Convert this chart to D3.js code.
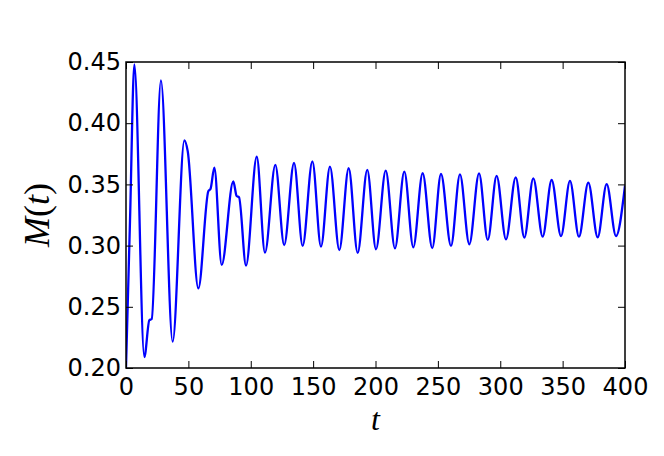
<!DOCTYPE html>
<html>
<head>
<meta charset="utf-8">
<script src="https://cdn.jsdelivr.net/npm/d3@7"></script>
<style>
  body { margin: 0; background: #fff; }
  svg { display: block; }
</style>
</head>
<body>
<script>
// time points (peaks, troughs and shoulders)
let tValues = [0, 3.2, 6.7, 14.7, 18.7, 20.6, 28, 37.4, 46.8, 49.5, 58, 66, 67.8, 70.8, 76.7, 86, 88.7, 90.6, 96.2,
  104.8, 111.4, 119.7, 126.8, 134.7, 141.6, 149.4, 156.3, 163.5, 171, 178.5, 185.7, 193.4, 200.4,
  208.2, 215.6, 223.1, 230.3, 237.8, 245.5, 252.5, 260.5, 267.7, 275.2, 283, 290, 297.1, 304.6,
  312.4, 319.3, 326.5, 334, 341.2, 348.7, 355.9, 363.1, 370.6, 378.1, 385.3, 392.8, 400];

let mValues = [0.200, 0.320, 0.448, 0.209, 0.239, 0.240, 0.435, 0.2215, 0.386, 0.377, 0.265, 0.3445, 0.3465, 0.3636, 0.2842, 0.3525, 0.3405, 0.3395, 0.2836,
  0.3726, 0.2942, 0.3660, 0.3005, 0.3675, 0.2997, 0.3688, 0.2991, 0.3645, 0.2964, 0.3632, 0.2940, 0.3618, 0.2970,
  0.3612, 0.2978, 0.3604, 0.2986, 0.3591, 0.2980, 0.3585, 0.2997, 0.3582, 0.3011, 0.3590, 0.3046, 0.3570, 0.3051,
  0.3558, 0.3065, 0.3550, 0.3073, 0.3536, 0.3078, 0.3528, 0.3073, 0.3514, 0.3068, 0.3503, 0.3078, 0.3490];

let xTicks = [0, 50, 100, 150, 200, 250, 300, 350, 400];
let yTicks = [0.20, 0.25, 0.30, 0.35, 0.40, 0.45];

let width = 664, height = 456;
let margin = {left: 126, right: 39, top: 62, bottom: 88};

let svg = d3.select("body").append("svg")
  .attr("width", width)
  .attr("height", height);

let x = d3.scaleLinear().domain([0, 400]).range([margin.left, width - margin.right]);
let y = d3.scaleLinear().domain([0.20, 0.45]).range([height - margin.bottom, margin.top]);

let points = tValues.map(function(t, i) { return [t, mValues[i]]; });

let line = d3.line()
  .x(function(d) { return x(d[0]); })
  .y(function(d) { return y(d[1]); })
  .curve(d3.curveMonotoneX);

svg.append("defs").append("clipPath").attr("id", "clip")
  .append("rect")
  .attr("x", margin.left).attr("y", margin.top)
  .attr("width", width - margin.left - margin.right)
  .attr("height", height - margin.top - margin.bottom);

svg.append("path")
  .datum(points)
  .attr("clip-path", "url(#clip)")
  .attr("d", line)
  .attr("fill", "none")
  .attr("stroke", "#0000ff")
  .attr("stroke-width", 2.3)
  .attr("stroke-linejoin", "round");

// ticks point inwards on all four sides
let tickLen = 7;
let axes = [
  {axis: d3.axisBottom(x).tickValues(xTicks).tickSizeInner(-tickLen).tickSizeOuter(0).tickPadding(10).tickFormat(d3.format("d")), at: "translate(0," + y.range()[0] + ")", labels: true},
  {axis: d3.axisTop(x).tickValues(xTicks).tickSizeInner(-tickLen).tickSizeOuter(0), at: "translate(0," + y.range()[1] + ")", labels: false},
  {axis: d3.axisLeft(y).tickValues(yTicks).tickSizeInner(-tickLen).tickSizeOuter(0).tickPadding(5).tickFormat(d3.format(".2f")), at: "translate(" + x.range()[0] + ",0)", labels: true},
  {axis: d3.axisRight(y).tickValues(yTicks).tickSizeInner(-tickLen).tickSizeOuter(0), at: "translate(" + x.range()[1] + ",0)", labels: false}
];

axes.forEach(function(a) {
  let g = svg.append("g").attr("transform", a.at).call(a.axis);
  g.select(".domain").remove();
  g.selectAll(".tick line").attr("stroke", "#000").attr("stroke-width", 1);
  g.selectAll(".tick text")
    .attr("fill", "#000")
    .style("font-family", "'DejaVu Sans', sans-serif")
    .style("font-size", "24px");
  if (!a.labels) g.selectAll(".tick text").remove();
});

svg.append("rect")
  .attr("x", margin.left).attr("y", margin.top)
  .attr("width", width - margin.left - margin.right)
  .attr("height", height - margin.top - margin.bottom)
  .attr("fill", "none")
  .attr("stroke", "#000")
  .attr("stroke-width", 1.5);

svg.append("text")
  .attr("x", (x.range()[0] + x.range()[1]) / 2)
  .attr("y", 430)
  .attr("text-anchor", "middle")
  .style("font-family", "'Liberation Serif', serif")
  .style("font-style", "italic")
  .style("font-size", "32px")
  .text("t");

svg.append("text")
  .attr("transform", "translate(49," + (y.range()[0] + y.range()[1]) / 2 + ") rotate(-90)")
  .attr("text-anchor", "middle")
  .style("font-family", "'Liberation Serif', serif")
  .style("font-size", "36px")
  .html("<tspan font-style='italic'>M</tspan>(<tspan font-style='italic'>t</tspan>)");
</script>
</body>
</html>
